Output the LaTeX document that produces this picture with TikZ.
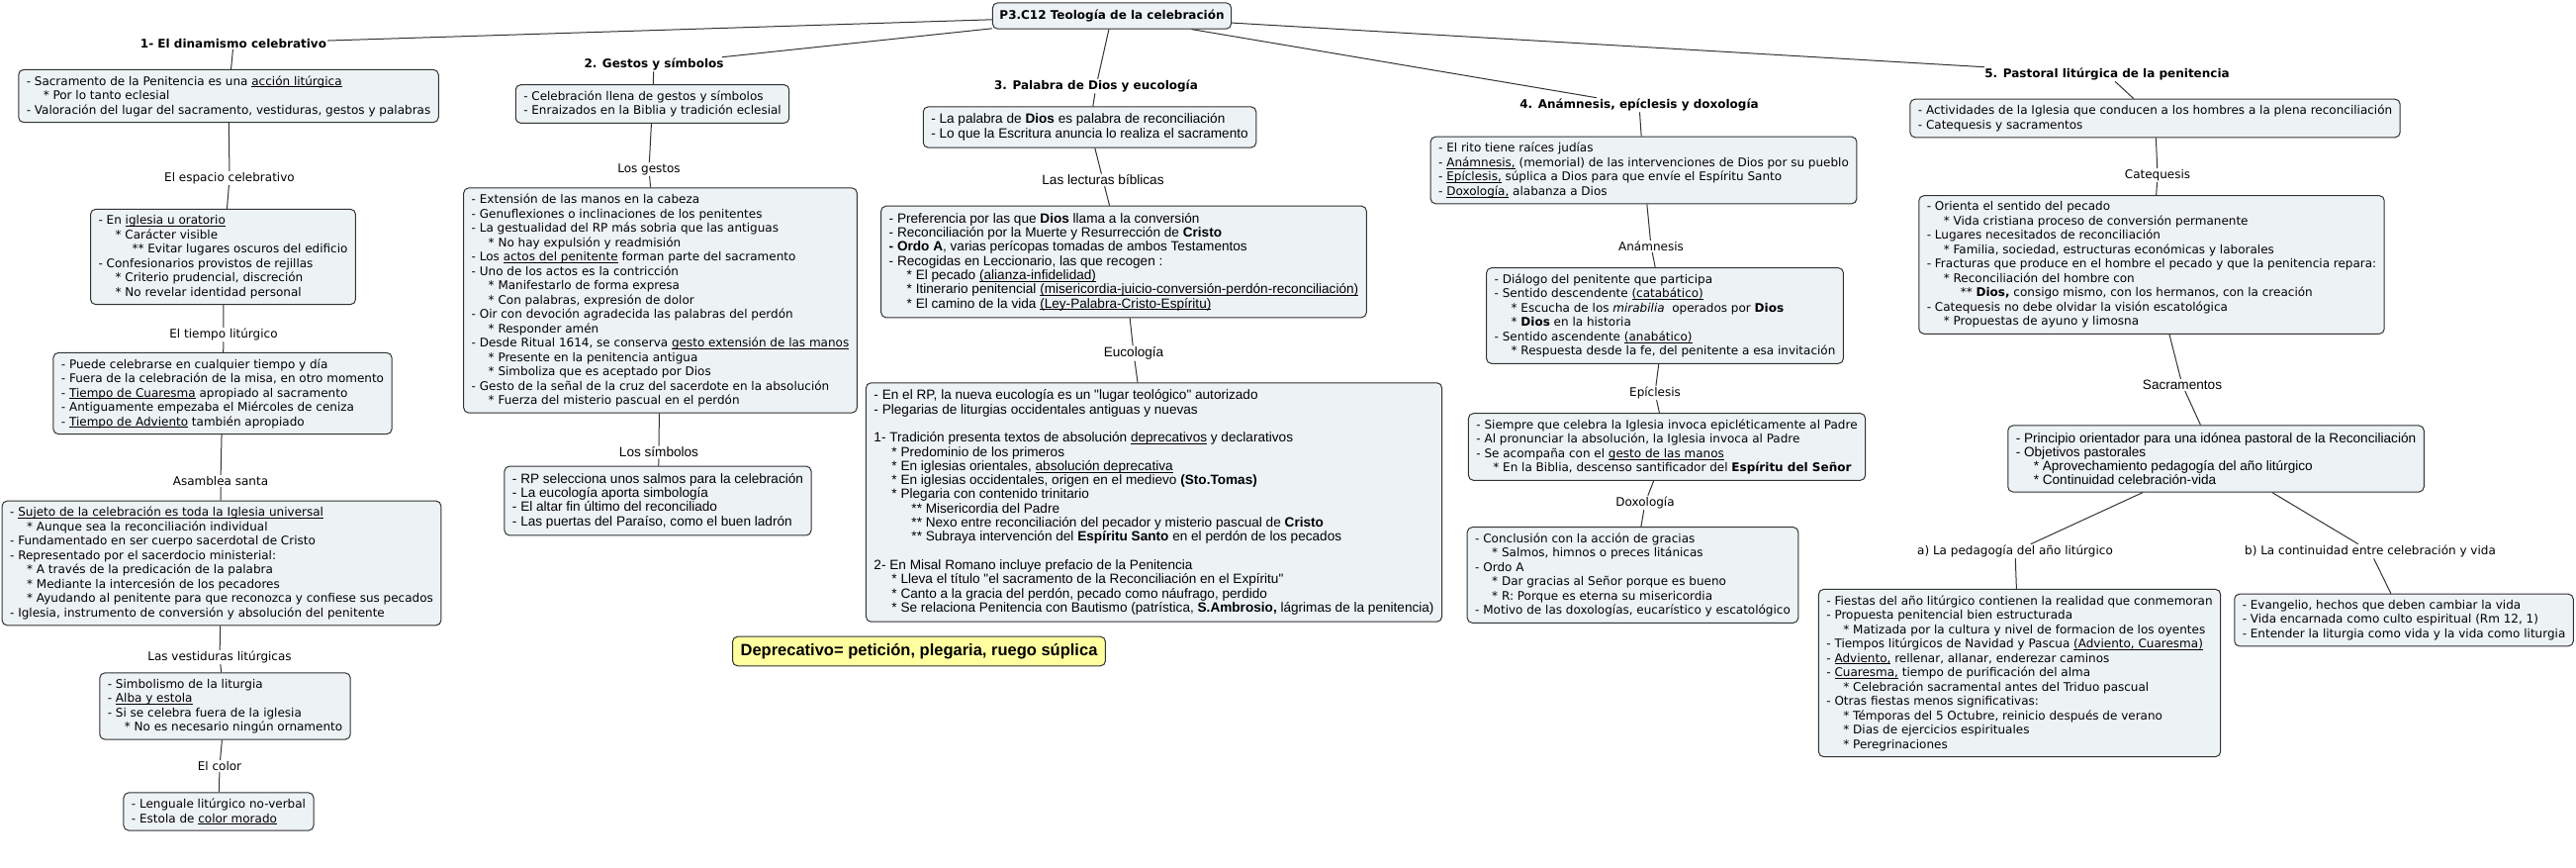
\documentclass[tikz,border=0pt]{standalone}
\usepackage{fontspec}
\setmainfont{DejaVu Sans}
\newfontfamily\tahoma{Liberation Sans}
\usepackage{tikz}
\definecolor{fondocaja}{RGB}{237,243,245}
\definecolor{bordecaja}{RGB}{50,50,50}
\definecolor{amarillo}{RGB}{255,255,160}
\newcommand{\nivA}{\hspace*{17pt}}
\newcommand{\nivB}{\hspace*{34pt}}
\newcommand{\tnivA}{\hspace*{18pt}}
\newcommand{\tnivB}{\hspace*{38pt}}
\newcommand{\subrayado}[1]{\leavevmode\setbox0=\hbox{#1}\rlap{\rule[-2pt]{\wd0}{0.8pt}}\box0\relax}
\tikzset{
	caja/.style={draw=bordecaja,fill=fondocaja,line width=1pt,rounded corners=5pt,align=left,inner xsep=8pt,inner ysep=6pt,font=\fontsize{12}{14.5}\selectfont},
	cajat/.style={caja,inner ysep=7pt,font=\tahoma\fontsize{13.6}{14.3}\selectfont},
	raiz/.style={caja,align=center,inner xsep=7pt,inner ysep=7pt,font=\bfseries\fontsize{12}{14.5}\selectfont},
	titulo/.style={inner sep=1pt,font=\bfseries\fontsize{12}{14.5}\selectfont},
	etiq/.style={inner sep=1pt,font=\fontsize{12}{14.5}\selectfont},
	etiqt/.style={inner sep=1pt,font=\tahoma\fontsize{13.6}{14.3}\selectfont},
	nota/.style={draw=bordecaja,fill=amarillo,line width=1pt,rounded corners=5pt,inner xsep=8pt,inner ysep=7pt,font=\tahoma\bfseries\fontsize{16.5}{19}\selectfont},
	conn/.style={draw=black!80,line width=1pt},
}
\begin{document}
\begin{tikzpicture}[x=1pt,y=-1pt]
\useasboundingbox (0,0) rectangle (2604,876);
% RAIZ
\node[raiz] (raiz) at (1124,16) {P3.C12 Teología de la celebración};
% TITULOS
\node[titulo] (t1) at (236,44) {1- El dinamismo celebrativo};
\node[titulo] (t2) at (661,65) {2. Gestos y símbolos};
\node[titulo] (t3) at (1108,87) {3. Palabra de Dios y eucología};
\node[titulo] (t4) at (1657,106) {4. Anámnesis, epíclesis y doxología};
\node[titulo] (t5) at (2130,75) {5. Pastoral litúrgica de la penitencia};
% COLUMNA 1
\node[caja] (c1a) at (231,97) {- Sacramento de la Penitencia es una \subrayado{acción litúrgica}\\
\nivA* Por lo tanto eclesial\\
- Valoración del lugar del sacramento, vestiduras, gestos y palabras};
\node[etiq] (l1b) at (232,180) {El espacio celebrativo};
\node[caja] (c1b) at (225.5,259.5) {- En \subrayado{iglesia u oratorio}\\
\nivA* Carácter visible\\
\nivB** Evitar lugares oscuros del edificio\\
- Confesionarios provistos de rejillas\\
\nivA* Criterio prudencial, discreción\\
\nivA* No revelar identidad personal};
\node[etiq] (l1c) at (226,338) {El tiempo litúrgico};
\node[caja] (c1c) at (225,397.5) {- Puede celebrarse en cualquier tiempo y día\\
- Fuera de la celebración de la misa, en otro momento\\
- \subrayado{Tiempo de Cuaresma} apropiado al sacramento\\
- Antiguamente empezaba el Miércoles de ceniza\\
- \subrayado{Tiempo de Adviento} también apropiado};
\node[etiq] (l1d) at (223,486) {Asamblea santa};
\node[caja] (c1d) at (224,569) {- \subrayado{Sujeto de la celebración es toda la Iglesia universal}\\
\nivA* Aunque sea la reconciliación individual\\
- Fundamentado en ser cuerpo sacerdotal de Cristo\\
- Representado por el sacerdocio ministerial:\\
\nivA* A través de la predicación de la palabra\\
\nivA* Mediante la intercesión de los pecadores\\
\nivA* Ayudando al penitente para que reconozca y confiese sus pecados\\
- Iglesia, instrumento de conversión y absolución del penitente};
\node[etiq] (l1e) at (222,664) {Las vestiduras litúrgicas};
\node[caja] (c1e) at (227.5,713.5) {- Simbolismo de la liturgia\\
- \subrayado{Alba y estola}\\
- Si se celebra fuera de la iglesia\\
\nivA* No es necesario ningún ornamento};
\node[etiq] (l1f) at (222,774) {El color};
\node[caja] (c1f) at (221,820) {- Lenguale litúrgico no-verbal\\
- Estola de \subrayado{color morado}};
% COLUMNA 2
\node[caja] (c2a) at (659.5,105) {- Celebración llena de gestos y símbolos\\
- Enraizados en la Biblia y tradición eclesial};
\node[etiq] (l2b) at (656,171) {Los gestos};
\node[caja] (c2b) at (667.5,303.5) {- Extensión de las manos en la cabeza\\
- Genuflexiones o inclinaciones de los penitentes\\
- La gestualidad del RP más sobria que las antiguas\\
\nivA* No hay expulsión y readmisión\\
- Los \subrayado{actos del penitente} forman parte del sacramento\\
- Uno de los actos es la contricción\\
\nivA* Manifestarlo de forma expresa\\
\nivA* Con palabras, expresión de dolor\\
- Oir con devoción agradecida las palabras del perdón\\
\nivA* Responder amén\\
- Desde Ritual 1614, se conserva \subrayado{gesto extensión de las manos}\\
\nivA* Presente en la penitencia antigua\\
\nivA* Simboliza que es aceptado por Dios\\
- Gesto de la señal de la cruz del sacerdote en la absolución\\
\nivA* Fuerza del misterio pascual en el perdón};
\node[etiqt] (l2c) at (666,457) {Los símbolos};
\node[cajat] (c2c) at (665,506) {- RP selecciona unos salmos para la celebración\\
- La eucología aporta simbología\\
- El altar fin último del reconciliado\\
- Las puertas del Paraíso, como el buen ladrón};
\node[nota] (nota) at (929,658) {Deprecativo= petición, plegaria, ruego súplica};
% COLUMNA 3
\node[cajat] (c3a) at (1101.5,128.5) {- La palabra de \textbf{Dios} es palabra de reconciliación\\
- Lo que la Escritura anuncia lo realiza el sacramento};
\node[etiqt] (l3b) at (1115,182) {Las lecturas bíblicas};
\node[cajat] (c3b) at (1136,264.5) {- Preferencia por las que \textbf{Dios} llama a la conversión\\
- Reconciliación por la Muerte y Resurrección de \textbf{Cristo}\\
\textbf{- Ordo A}, varias perícopas tomadas de ambos Testamentos\\
- Recogidas en Leccionario, las que recogen :\\
\tnivA* El pecado \subrayado{(alianza-infidelidad)}\\
\tnivA* Itinerario penitencial \subrayado{(misericordia-juicio-conversión-perdón-reconciliación)}\\
\tnivA* El camino de la vida \subrayado{(Ley-Palabra-Cristo-Espíritu)}};
\node[etiqt] (l3c) at (1146,357) {Eucología};
\node[cajat] (c3c) at (1166.5,507.5) {- En el RP, la nueva eucología es un "lugar teológico" autorizado\\
- Plegarias de liturgias occidentales antiguas y nuevas\\[14.3pt]
1- Tradición presenta textos de absolución \subrayado{deprecativos} y declarativos\\
\tnivA* Predominio de los primeros\\
\tnivA* En iglesias orientales, \subrayado{absolución deprecativa}\\
\tnivA* En iglesias occidentales, origen en el medievo \textbf{(Sto.Tomas)}\\
\tnivA* Plegaria con contenido trinitario\\
\tnivB** Misericordia del Padre\\
\tnivB** Nexo entre reconciliación del pecador y misterio pascual de \textbf{Cristo}\\
\tnivB** Subraya intervención del \textbf{Espíritu Santo} en el perdón de los pecados\\[14.3pt]
2- En Misal Romano incluye prefacio de la Penitencia\\
\tnivA* Lleva el título "el sacramento de la Reconciliación en el Expíritu"\\
\tnivA* Canto a la gracia del perdón, pecado como náufrago, perdido\\
\tnivA* Se relaciona Penitencia con Bautismo (patrística, \textbf{S.Ambrosio,} lágrimas de la penitencia)};
% COLUMNA 4
\node[caja] (c4a) at (1661.5,172) {- El rito tiene raíces judías\\
- \subrayado{Anámnesis,} (memorial) de las intervenciones de Dios por su pueblo\\
- \subrayado{Epíclesis,} súplica a Dios para que envíe el Espíritu Santo\\
- \subrayado{Doxología,} alabanza a Dios};
\node[etiq] (l4b) at (1669,249) {Anámnesis};
\node[caja] (c4b) at (1683,319) {- Diálogo del penitente que participa\\
- Sentido descendente \subrayado{(catabático)}\\
\nivA* Escucha de los \textit{mirabilia}~ operados por \textbf{Dios}\\
\nivA* \textbf{Dios} en la historia\\
- Sentido ascendente \subrayado{(anabático)}\\
\nivA* Respuesta desde la fe, del penitente a esa invitación};
\node[etiq] (l4c) at (1673,397) {Epíclesis};
\node[caja] (c4c) at (1685,451.5) {- Siempre que celebra la Iglesia invoca epicléticamente al Padre\\
- Al pronunciar la absolución, la Iglesia invoca al Padre\\
- Se acompaña con el \subrayado{gesto de las manos}\\
\nivA* En la Biblia, descenso santificador del \textbf{Espíritu del Señor}};
\node[etiq] (l4d) at (1663,508) {Doxología};
\node[caja] (c4d) at (1650.5,581) {- Conclusión con la acción de gracias\\
\nivA* Salmos, himnos o preces litánicas\\
- Ordo A\\
\nivA* Dar gracias al Señor porque es bueno\\
\nivA* R: Porque es eterna su misericordia\\
- Motivo de las doxologías, eucarístico y escatológico};
% COLUMNA 5
\node[caja] (c5a) at (2178.5,119.5) {- Actividades de la Iglesia que conducen a los hombres a la plena reconciliación\\
- Catequesis y sacramentos};
\node[etiq] (l5b) at (2181,177) {Catequesis};
\node[caja] (c5b) at (2175,267.5) {- Orienta el sentido del pecado\\
\nivA* Vida cristiana proceso de conversión permanente\\
- Lugares necesitados de reconciliación\\
\nivA* Familia, sociedad, estructuras económicas y laborales\\
- Fracturas que produce en el hombre el pecado y que la penitencia repara:\\
\nivA* Reconciliación del hombre con\\
\nivB** \textbf{Dios,} consigo mismo, con los hermanos, con la creación\\
- Catequesis no debe olvidar la visión escatológica\\
\nivA* Propuestas de ayuno y limosna};
\node[etiqt] (l5c) at (2206,389) {Sacramentos};
\node[cajat] (c5c) at (2240,463.5) {- Principio orientador para una idónea pastoral de la Reconciliación\\
- Objetivos pastorales\\
\tnivA* Aprovechamiento pedagogía del año litúrgico\\
\tnivA* Continuidad celebración-vida};
\node[etiq] (l5d) at (2037,557) {a) La pedagogía del año litúrgico};
\node[caja] (c5d) at (2041.5,680) {- Fiestas del año litúrgico contienen la realidad que conmemoran\\
- Propuesta penitencial bien estructurada\\
\nivA* Matizada por la cultura y nivel de formacion de los oyentes\\
- Tiempos litúrgicos de Navidad y Pascua \subrayado{(Adviento, Cuaresma)}\\
- \subrayado{Adviento,} rellenar, allanar, enderezar caminos\\
- \subrayado{Cuaresma,} tiempo de purificación del alma\\
\nivA* Celebración sacramental antes del Triduo pascual\\
- Otras fiestas menos significativas:\\
\nivA* Témporas del 5 Octubre, reinicio después de verano\\
\nivA* Dias de ejercicios espirituales\\
\nivA* Peregrinaciones};
\node[etiq] (l5e) at (2396,557) {b) La continuidad entre celebración y vida};
\node[caja] (c5e) at (2430,626.5) {- Evangelio, hechos que deben cambiar la vida\\
- Vida encarnada como culto espiritual (Rm 12, 1)\\
- Entender la liturgia como vida y la vida como liturgia};
% LINEAS DESDE LA RAIZ
\draw[conn] (raiz) -- (t1);
\draw[conn] (raiz) -- (t2);
\draw[conn] (raiz) -- (t3);
\draw[conn] (raiz) -- (t4);
\draw[conn] (raiz) -- (t5);
% LINEAS COLUMNA 1
\draw[conn] (t1) -- (c1a) (c1a) -- (l1b) (l1b) -- (c1b) (c1b) -- (l1c) (l1c) -- (c1c);
\draw[conn] (c1c) -- (l1d) (l1d) -- (c1d) (c1d) -- (l1e) (l1e) -- (c1e) (c1e) -- (l1f) (l1f) -- (c1f);
% LINEAS COLUMNA 2
\draw[conn] (t2) -- (c2a) (c2a) -- (l2b) (l2b) -- (c2b) (c2b) -- (l2c) (l2c) -- (c2c);
% LINEAS COLUMNA 3
\draw[conn] (t3) -- (c3a) (c3a) -- (l3b) (l3b) -- (c3b) (c3b) -- (l3c) (l3c) -- (c3c);
% LINEAS COLUMNA 4
\draw[conn] (t4) -- (c4a) (c4a) -- (l4b) (l4b) -- (c4b) (c4b) -- (l4c) (l4c) -- (c4c) (c4c) -- (l4d) (l4d) -- (c4d);
% LINEAS COLUMNA 5
\draw[conn] (t5) -- (c5a) (c5a) -- (l5b) (l5b) -- (c5b) (c5b) -- (l5c) (l5c) -- (c5c);
\draw[conn] (c5c) -- (l5d) (l5d) -- (c5d);
\draw[conn] (c5c) -- (l5e) (l5e) -- (c5e);
\end{tikzpicture}
\end{document}
